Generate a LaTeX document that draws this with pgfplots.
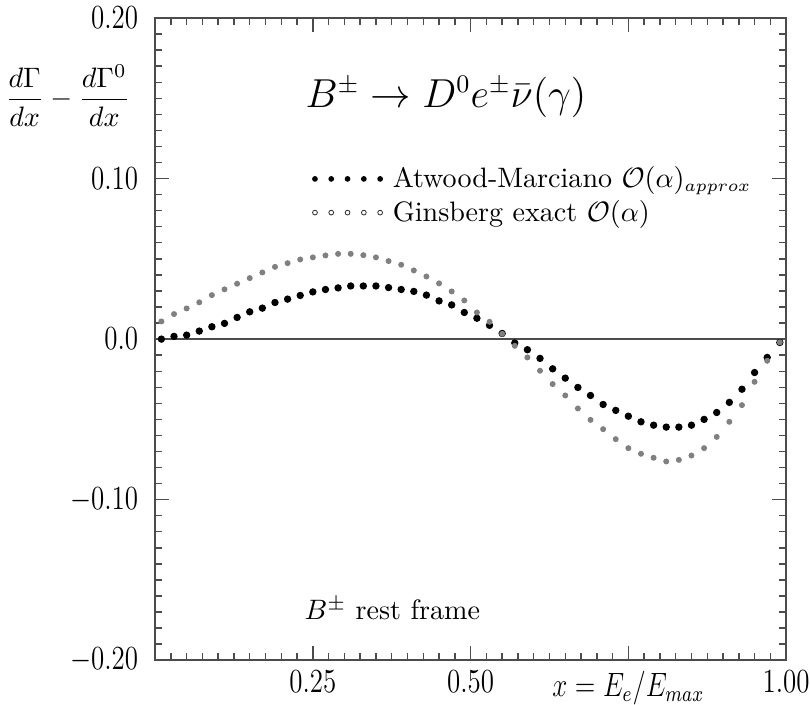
\documentclass[border=0pt]{standalone}
\usepackage{graphicx}
\usepackage{pgfplots}
\pgfplotsset{compat=1.18}
\newcommand{\tl}[1]{\scalebox{0.8}[1]{\fontsize{11.5}{13}\selectfont$#1$}}
\pgfplotstableread{
x y
0.01 0.000
0.03 0.0017
0.05 0.0025
0.07 0.005
0.09 0.0077
0.11 0.0098
0.13 0.0135
0.15 0.017
0.17 0.0193
0.19 0.0228
0.21 0.0249
0.23 0.0272
0.25 0.0294
0.27 0.0309
0.29 0.0319
0.31 0.0331
0.33 0.0331
0.35 0.0331
0.37 0.0321
0.39 0.0309
0.41 0.0297
0.43 0.0274
0.45 0.0238
0.47 0.0213
0.49 0.0166
0.51 0.013
0.53 0.0086
0.55 0.0035
0.57 -0.0024
0.59 -0.0066
0.61 -0.012
0.63 -0.0185
0.65 -0.0243
0.67 -0.0301
0.69 -0.0351
0.71 -0.0407
0.73 -0.0444
0.75 -0.048
0.77 -0.0515
0.79 -0.0536
0.81 -0.0548
0.83 -0.0548
0.85 -0.0536
0.87 -0.05
0.89 -0.0457
0.91 -0.0394
0.93 -0.0312
0.95 -0.0208
0.97 -0.0114
0.99 -0.0021
}\approxdata
\pgfplotstableread{
x y
0.01 0.011
0.03 0.0156
0.05 0.0191
0.07 0.0229
0.09 0.0274
0.11 0.031
0.13 0.0345
0.15 0.038
0.17 0.0415
0.19 0.045
0.21 0.0473
0.23 0.0496
0.25 0.0509
0.27 0.0521
0.29 0.0531
0.31 0.0531
0.33 0.0523
0.35 0.0509
0.37 0.0486
0.39 0.0463
0.41 0.0428
0.43 0.039
0.45 0.0347
0.47 0.0297
0.49 0.0241
0.51 0.0166
0.53 0.0108
0.55 0.0033
0.57 -0.0042
0.59 -0.0114
0.61 -0.0197
0.63 -0.028
0.65 -0.0351
0.67 -0.0432
0.69 -0.0503
0.71 -0.0561
0.73 -0.0623
0.75 -0.0679
0.77 -0.0714
0.79 -0.0739
0.81 -0.0762
0.83 -0.0752
0.85 -0.0725
0.87 -0.0679
0.89 -0.0609
0.91 -0.0515
0.93 -0.0411
0.95 -0.0266
0.97 -0.0135
0.99 -0.002
}\exactdata
\begin{document}
\begin{tikzpicture}
\begin{axis}[
  scale only axis, width=224.6pt, height=228.6pt,
  xmin=0, xmax=1, ymin=-0.2, ymax=0.2,
  xtick={0,0.25,0.5,0.75,1},
  xticklabels={,\tl{0.25},\tl{0.50},\tl{x=E_e/E_{max}},\tl{1.00}},
  ytick={-0.2,-0.1,0,0.1,0.2},
  yticklabels={\tl{-0.20},\tl{-0.10},\tl{0.0},\tl{0.10},\tl{0.20}},
  minor x tick num=9, minor y tick num=9,
  tick align=inside, major tick length=5pt, minor tick length=2.5pt,
  axis line style={black!70, line width=0.6pt},
  every tick/.style={black!70, line width=0.5pt},
  xticklabel style={yshift=-0.3pt},
  yticklabel style={xshift=-2.5pt},
  clip=false,
  legend style={at={(axis cs:0.248,0.1115)}, anchor=north west, draw=none, fill=none,
    font=\normalsize, row sep=-1pt, inner sep=0pt,
    cells={anchor=west}},
  legend cell align=left,
]
\addplot[black!70, line width=0.5pt, forget plot] coordinates {(0,0) (1,0)};
\addplot[only marks, mark=*, mark size=1.1pt, black,
  legend image code/.code={\foreach \i in {0,...,4}{\fill[black] (\i*5.8pt,0pt) circle (0.8pt);}\path (25.5pt,0pt);}]
  table[x=x,y=y] {\approxdata};
\addlegendentry{Atwood-Marciano $\mathcal{O}(\alpha)_{\mbox{\fontsize{6}{7}\selectfont$approx$}}$}
\addplot[only marks, black!50, mark=*, mark size=0.85pt, mark options={draw=black!50, fill=black!50},
  legend image code/.code={\foreach \i in {0,...,4}{\draw[black!80, fill=white, line width=0.3pt] (\i*5.8pt,0pt) circle (0.85pt);}\path (25.5pt,0pt);}]
  table[x=x,y=y] {\exactdata};
\addlegendentry{Ginsberg exact $\mathcal{O}(\alpha)$}
\node[font=\fontsize{13.5}{16}\selectfont] at (axis cs:0.461,0.151) {$B^{\pm}\to D^0e^{\pm}\bar\nu(\gamma)$};
\node at (axis cs:0.376,-0.168) {$B^{\pm}$ rest frame};
\node[anchor=east] at (axis cs:-0.024,0.1517) {$\displaystyle\frac{d\Gamma}{dx}-\frac{d\Gamma^0}{dx}$};
\end{axis}
\pgfresetboundingbox
\path ([xshift=-55.2pt,yshift=-15.7pt]current axis.south west) rectangle ([xshift=8.5pt,yshift=6.4pt]current axis.north east);
\end{tikzpicture}
\end{document}
